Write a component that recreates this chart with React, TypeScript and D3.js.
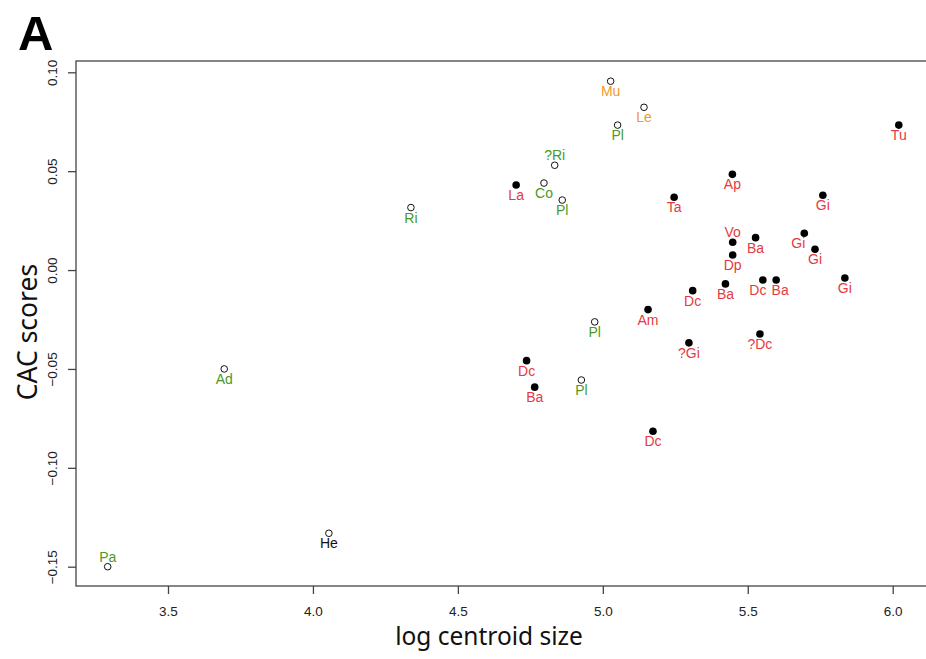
import React, { useRef, useEffect } from "react";
import * as d3 from "d3";

// log centroid size, CAC score, taxon label, group for each specimen
const sizes = [3.292, 3.694, 4.055, 4.338, 4.834, 4.797, 4.860, 5.027, 5.142, 5.051, 4.972, 4.926,
    6.021, 4.701, 5.447, 5.246, 5.759, 5.448, 5.527, 5.695, 5.732, 5.448, 5.835, 5.552, 5.598,
    5.423, 5.310, 5.156, 5.297, 5.542, 4.737, 4.765, 5.173];
const scores = [-0.150, -0.050, -0.1331, 0.0316, 0.0530, 0.0440, 0.0354, 0.0955, 0.0823, 0.0733, -0.0262, -0.0556,
    0.0733, 0.0430, 0.0484, 0.0368, 0.0378, 0.0141, 0.0164, 0.0186, 0.0105, 0.0076, -0.0040, -0.0050, -0.0050,
    -0.0070, -0.0104, -0.0200, -0.0368, -0.0323, -0.0458, -0.0592, -0.0815];
const taxa = ["Pa", "Ad", "He", "Ri", "?Ri", "Co", "Pl", "Mu", "Le", "Pl", "Pl", "Pl",
    "Tu", "La", "Ap", "Ta", "Gi", "Vo", "Ba", "Gi", "Gi", "Dp", "Gi", "Dc", "Ba",
    "Ba", "Dc", "Am", "?Gi", "?Dc", "Dc", "Ba", "Dc"];
const groups = ["green", "green", "black", "green", "green", "green", "green", "orange", "orange", "green", "green", "green",
    "red", "red", "red", "red", "red", "red", "red", "red", "red", "red", "red", "red", "red",
    "red", "red", "red", "red", "red", "red", "red", "red"];
const labelAbove = ["Pa", "?Ri", "Vo"];

const xTicks = [3.5, 4.0, 4.5, 5.0, 5.5, 6.0];
const yTicks = [0.10, 0.05, 0.00, -0.05, -0.10, -0.15];

const colors = { green: "#4b9a25", orange: "#f29a2e", red: "#e63a40", black: "#111111" };

export default function App() {
    const ref = useRef(null);

    useEffect(() => {
        if (!ref.current) return;
        const width = 926;
        const svg = d3.select(ref.current);
        svg.selectAll("*").remove();

        const left = 76, top = 61, bottom = 586;
        const x = d3.scaleLinear().domain([3.5, 6.0]).range([168, 892.7]);
        const y = d3.scaleLinear().domain([0.10, -0.15]).range([72.3, 566.7]);

        // plot box (right side runs past the edge)
        svg.append("rect")
            .attr("x", left).attr("y", top)
            .attr("width", width + 10 - left).attr("height", bottom - top)
            .attr("fill", "none").attr("stroke", "#444").attr("stroke-width", 1.3);

        const xAxis = svg.append("g")
            .attr("transform", `translate(0,${bottom})`)
            .call(d3.axisBottom(x).tickValues(xTicks).tickFormat(d3.format(".1f")).tickSize(8).tickPadding(12));
        xAxis.select(".domain").remove();

        const yAxis = svg.append("g")
            .attr("transform", `translate(${left},0)`)
            .call(d3.axisLeft(y).tickValues(yTicks).tickFormat(d => d3.format(".2f")(d).replace("-", "\u2212")).tickSize(8));
        yAxis.select(".domain").remove();

        [xAxis, yAxis].forEach(g => g
            .attr("font-family", "Liberation Sans, Arial, sans-serif")
            .attr("font-size", 13.5));
        svg.selectAll(".tick line").attr("stroke", "#444").attr("stroke-width", 1.3);
        svg.selectAll(".tick text").attr("fill", "#222");

        // y tick labels read bottom-to-top, as in base R
        yAxis.selectAll(".tick text")
            .attr("transform", "rotate(-90)")
            .attr("text-anchor", "middle")
            .attr("x", 0)
            .attr("y", -24)
            .attr("dy", "0.35em");

        // a few labels nudged sideways so they don't collide
        const nudge = { 19: -6, 23: -5, 24: 4 };

        const idx = d3.range(sizes.length);
        svg.append("g").selectAll("circle")
            .data(idx)
            .join("circle")
            .attr("cx", i => x(sizes[i]))
            .attr("cy", i => y(scores[i]))
            .attr("r", i => groups[i] === "red" ? 3.8 : 3.3)
            .attr("fill", i => groups[i] === "red" ? "#000" : "#fff")
            .attr("stroke", "#111")
            .attr("stroke-width", i => groups[i] === "red" ? 0 : 1);

        svg.append("g")
            .attr("font-family", "Liberation Sans, Arial, sans-serif")
            .attr("font-size", 14)
            .attr("text-anchor", "middle")
            .selectAll("text")
            .data(idx)
            .join("text")
            .attr("x", i => x(sizes[i]) + (nudge[i] || 0))
            .attr("y", i => y(scores[i]) + (labelAbove.includes(taxa[i]) ? -5 : 15))
            .attr("fill", i => colors[groups[i]])
            .text(i => taxa[i]);

        svg.append("text")
            .attr("x", 489).attr("y", 645)
            .attr("text-anchor", "middle")
            .attr("font-family", "Noto Sans, sans-serif")
            .attr("font-size", 24.5)
            .attr("fill", "#111")
            .text("log centroid size");

        svg.append("text")
            .attr("transform", "translate(37,332) rotate(-90)")
            .attr("text-anchor", "middle")
            .attr("font-family", "Noto Sans, sans-serif")
            .attr("font-size", 26.5)
            .attr("fill", "#111")
            .text("CAC scores");

        svg.append("text")
            .attr("x", 18).attr("y", 50)
            .attr("font-family", "Liberation Sans, Arial, sans-serif")
            .attr("font-weight", "bold")
            .attr("font-size", 49)
            .attr("fill", "#000")
            .text("A");
    }, []);

    return (
        <svg ref={ref} width={926} height={659}
            style={{ position: "absolute", left: 0, top: 0, background: "#fff" }} />
    );
}
